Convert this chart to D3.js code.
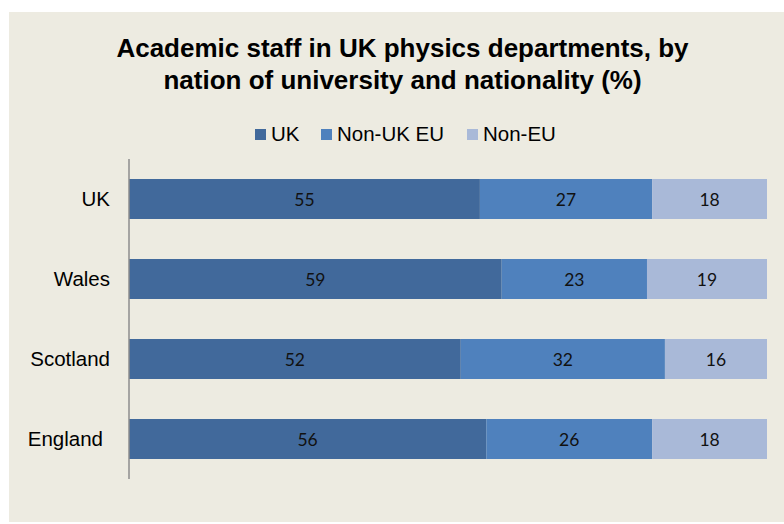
<!DOCTYPE html>
<html><head><meta charset="utf-8">
<script src="https://cdn.jsdelivr.net/npm/d3@7"></script>
<style>html,body{margin:0;padding:0;background:#fff;}</style>
</head><body>
<svg id="chart" width="784" height="524"></svg>
<script>
const categories = ["UK", "Wales", "Scotland", "England"];
const seriesNames = ["UK", "Non-UK EU", "Non-EU"];
const ukValues = [55, 59, 52, 56];
const nonUkEuValues = [27, 23, 32, 26];
const nonEuValues = [18, 19, 16, 18];
const colors = ["#41699B", "#4F81BD", "#A9B9D8"];

const rows = categories.map((c, i) => ({cat: c, "UK": ukValues[i], "Non-UK EU": nonUkEuValues[i], "Non-EU": nonEuValues[i]}));
const stack = d3.stack().keys(seriesNames).offset(d3.stackOffsetExpand)(rows);

const svg = d3.select("#chart");
svg.append("rect").attr("x", 9).attr("y", 12).attr("width", 775).attr("height", 510).attr("fill", "#EDEBE1");

const titleFont = "Liberation Sans, Arial, sans-serif";
svg.append("text").attr("x", 402.5).attr("y", 57).attr("text-anchor", "middle")
  .attr("font-family", titleFont).attr("font-weight", "bold").attr("font-size", 26).attr("fill", "#000")
  .text("Academic staff in UK physics departments, by");
svg.append("text").attr("x", 402.5).attr("y", 89).attr("text-anchor", "middle")
  .attr("font-family", titleFont).attr("font-weight", "bold").attr("font-size", 26).attr("fill", "#000")
  .text("nation of university and nationality (%)");

const x = d3.scaleLinear().domain([0, 1]).range([129, 767]);
const y = d3.scaleBand().domain(categories).range([159, 479]).paddingInner(0.5).paddingOuter(0.25);

const g = svg.append("g");
stack.forEach((layer, li) => {
  const key = layer.key;
  g.selectAll(null).data(layer).enter().append("rect")
    .attr("x", d => x(d[0])).attr("width", d => x(d[1]) - x(d[0]))
    .attr("y", d => y(d.data.cat)).attr("height", y.bandwidth())
    .attr("fill", colors[li]);
  g.selectAll(null).data(layer).enter().append("text")
    .attr("x", d => (x(d[0]) + x(d[1])) / 2).attr("y", d => y(d.data.cat) + y.bandwidth() / 2 + 6.5)
    .attr("text-anchor", "middle").attr("font-family", "Lato, Carlito, sans-serif").attr("font-size", 17.5).attr("fill", "#111")
    .text(d => d.data[key]);
});

const yAxis = svg.append("g").attr("transform", "translate(129,0)")
  .call(d3.axisLeft(y).tickSize(0).tickPadding(19));
yAxis.select(".domain").attr("stroke", "#8c8c8c").attr("stroke-width", 1.5).attr("d", "M0,159V479");
yAxis.selectAll("text").attr("font-family", titleFont).attr("font-size", 20.5).attr("fill", "#000").attr("dy", "0.35em")
  .attr("dx", d => d === "England" ? -7 : 0);

const legend = svg.append("g");
const legX = [255, 321, 467];
seriesNames.forEach((s, i) => {
  legend.append("rect").attr("x", legX[i]).attr("y", 129).attr("width", 11).attr("height", 11).attr("fill", colors[i]);
  legend.append("text").attr("x", legX[i] + 16).attr("y", 141).attr("font-family", titleFont)
    .attr("font-size", 20.5).attr("fill", "#000").text(s);
});
</script>
</body></html>
